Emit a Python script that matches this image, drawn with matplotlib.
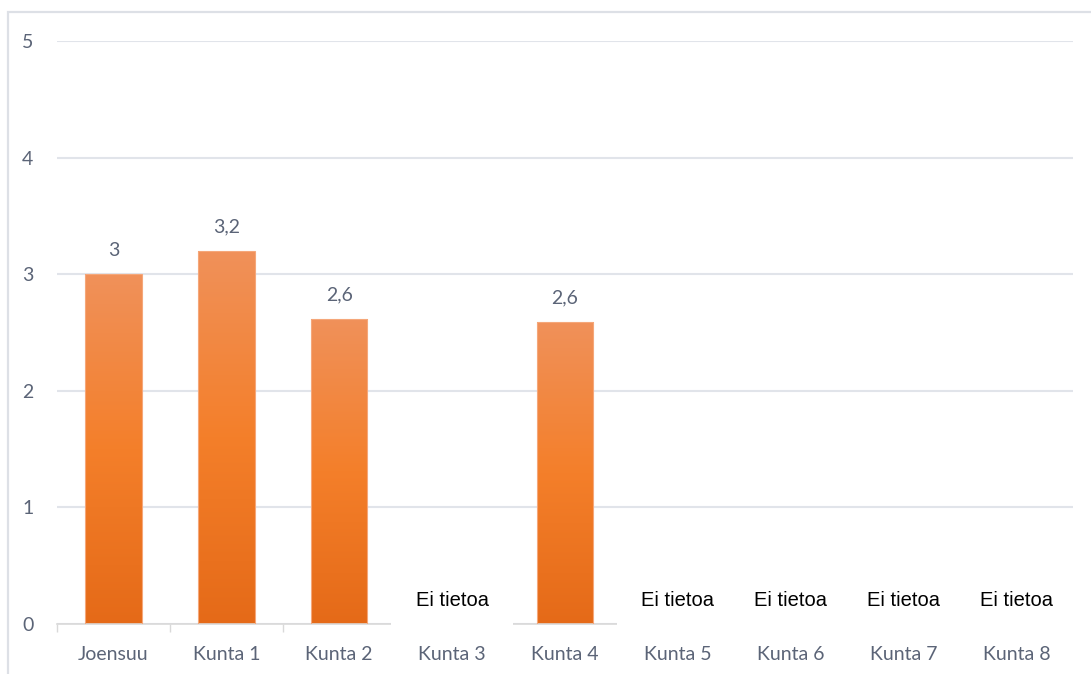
import matplotlib
matplotlib.use('Agg')
import matplotlib.pyplot as plt
import numpy as np
from matplotlib.colors import LinearSegmentedColormap
from matplotlib.patches import Rectangle

categories = ['Joensuu', 'Kunta 1', 'Kunta 2', 'Kunta 3', 'Kunta 4',
              'Kunta 5', 'Kunta 6', 'Kunta 7', 'Kunta 8']
values = [3.0, 3.2, 2.62, np.nan, 2.59, np.nan, np.nan, np.nan, np.nan]
missing_text = 'Ei tietoa'
yticks = [0, 1, 2, 3, 4, 5]

TEXT = '#5b6477'
GRID = '#e1e4ea'
BASE = '#d9d9d9'
BAR_CMAP = LinearSegmentedColormap.from_list('bar', ['#f0915a', '#f47f2a', '#e56a18'])
FS = 14


def fmt(v):
    s = f'{v:.1f}'.replace('.', ',')
    return s[:-2] if s.endswith(',0') else s


fig = plt.figure(figsize=(10.91, 6.74), dpi=100, facecolor='white')
ax = fig.add_axes([57 / 1091, 1 - 624 / 674, (1073 - 57) / 1091, (624 - 41) / 674])

# outer chart border (cropped on right and bottom)
fig.patches.append(Rectangle((8 / 1091, -0.1), 1.2, 1 - 12 / 674 + 0.1, transform=fig.transFigure,
                             fill=False, edgecolor='#dde0e6', linewidth=1.6, zorder=0))

x = np.arange(len(categories))
vals = np.array(values, dtype=float)
have = ~np.isnan(vals)
bars = ax.bar(x[have], vals[have], width=0.5, color='none', edgecolor='#f5a77a', linewidth=0.8, zorder=3)

# vertical gradient fill per bar, clipped to the bar shape
grad = np.linspace(0, 1, 256).reshape(-1, 1)
for b in bars:
    x0, y0 = b.get_x(), b.get_y()
    im = ax.imshow(grad, cmap=BAR_CMAP, aspect='auto', origin='upper',
                   extent=(x0, x0 + b.get_width(), y0, y0 + b.get_height()), zorder=2)
    im.set_clip_path(b)
    ax.annotate(fmt(b.get_height()), (x0 + b.get_width() / 2, b.get_height()),
                textcoords='offset points', xytext=(0, 11), ha='center', va='bottom',
                fontsize=FS, color=TEXT, family='Lato')

# "no data" boxes, white fill hides the baseline like the original
for i in x[~have]:
    ax.text(i, 0.2, missing_text, ha='center', va='center', fontsize=14.5, color='black',
            family='Liberation Sans', zorder=5,
            bbox=dict(boxstyle='square,pad=1.2', facecolor='white', edgecolor='none'))

ax.set_xlim(-0.5, len(categories) - 0.5)
ax.set_ylim(0, 5)
ax.set_yticks(yticks)
ax.set_yticklabels([str(t) for t in yticks], family='Lato', fontsize=FS, color=TEXT)
ax.set_xticks(x)
ax.set_xticklabels(categories, family='Lato', fontsize=FS, color=TEXT)
ax.set_xticks(np.arange(len(categories) + 1) - 0.5, minor=True)
ax.tick_params(axis='x', which='major', length=0, pad=16)
ax.tick_params(axis='x', which='minor', length=6, color=BASE, width=1)
ax.tick_params(axis='y', length=0, pad=17)

ax.grid(axis='y', color=GRID, linewidth=1.5, zorder=0)
ax.set_axisbelow(True)
for side in ('top', 'right', 'left'):
    ax.spines[side].set_visible(False)
ax.spines['bottom'].set_color(BASE)
ax.spines['bottom'].set_linewidth(1.2)

fig.savefig('out.png', dpi=100, facecolor='white')
